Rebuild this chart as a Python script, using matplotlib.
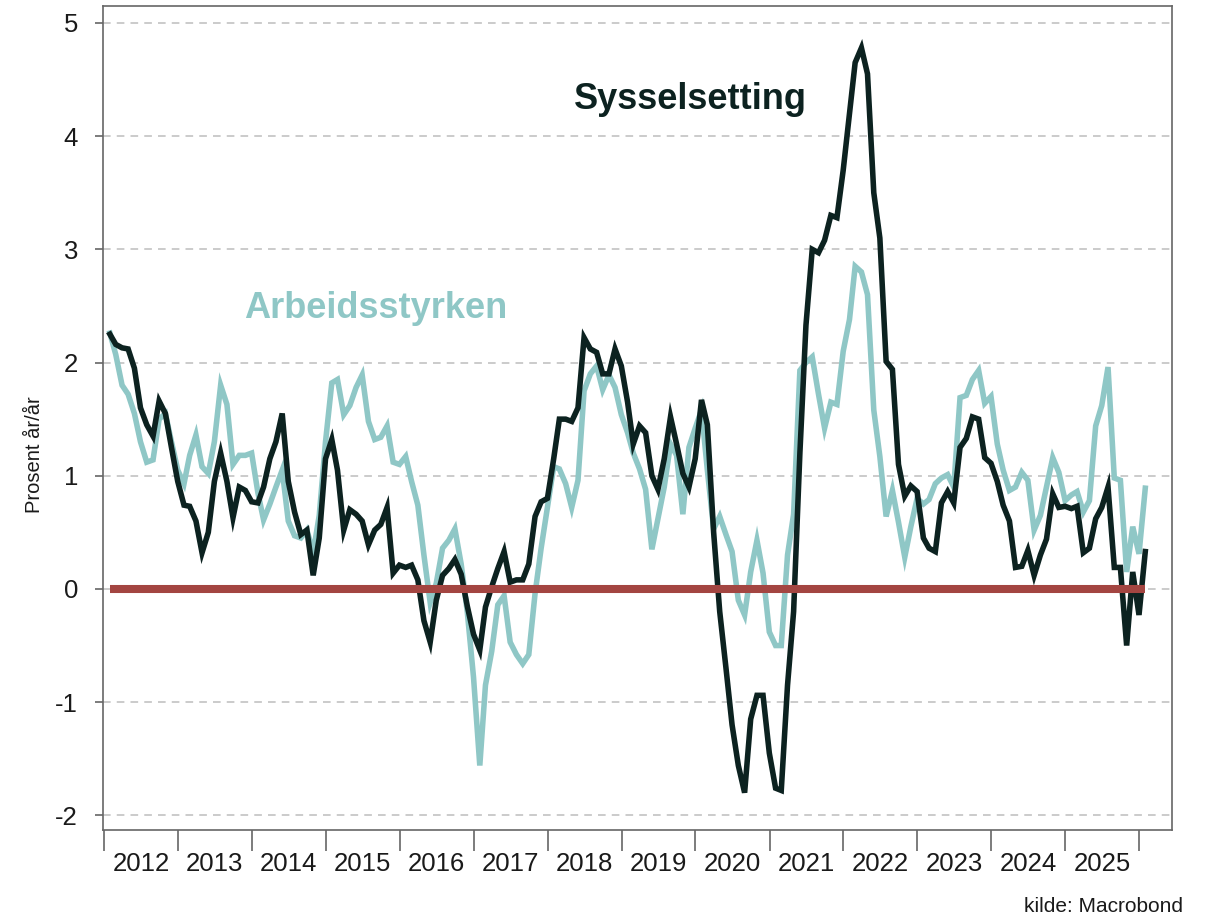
import matplotlib
matplotlib.use("Agg")
import matplotlib.pyplot as plt
import matplotlib.dates as mdates
import pandas as pd
import datetime as dt

# Monthly observations Jan 2012 - Jan 2026 (percent, year over year)
dates = pd.date_range("2012-01-31", periods=169, freq="ME")

sysselsetting = [
    # 2012
    2.25, 2.16, 2.13, 2.12, 1.95, 1.60, 1.45, 1.35, 1.66, 1.55, 1.25, 0.95,
    # 2013
    0.74, 0.73, 0.60, 0.32, 0.50, 0.95, 1.20, 0.95, 0.63, 0.90, 0.87, 0.77,
    # 2014
    0.76, 0.90, 1.15, 1.30, 1.55, 0.95, 0.68, 0.48, 0.52, 0.12, 0.45, 1.15,
    # 2015
    1.32, 1.05, 0.52, 0.70, 0.66, 0.60, 0.39, 0.52, 0.57, 0.72, 0.14, 0.21,
    # 2016
    0.19, 0.21, 0.08, -0.28, -0.47, -0.10, 0.12, 0.18, 0.26, 0.13, -0.15, -0.40,
    # 2017
    -0.54, -0.16, 0.02, 0.18, 0.33, 0.06, 0.08, 0.08, 0.22, 0.64, 0.77, 0.80,
    # 2018
    1.15, 1.50, 1.50, 1.48, 1.60, 2.22, 2.12, 2.09, 1.90, 1.90, 2.12, 1.97,
    # 2019
    1.65, 1.28, 1.44, 1.38, 1.00, 0.88, 1.15, 1.52, 1.28, 1.02, 0.90, 1.15,
    # 2020
    1.67, 1.45, 0.50, -0.20, -0.70, -1.20, -1.56, -1.80, -1.15, -0.94, -0.94, -1.45,
    # 2021
    -1.76, -1.78, -0.85, -0.20, 1.20, 2.33, 3.00, 2.97, 3.08, 3.30, 3.28, 3.70,
    # 2022
    4.20, 4.65, 4.78, 4.55, 3.50, 3.10, 2.01, 1.94, 1.10, 0.82, 0.91, 0.86,
    # 2023
    0.45, 0.36, 0.33, 0.76, 0.86, 0.76, 1.25, 1.33, 1.52, 1.50, 1.16, 1.11,
    # 2024
    0.95, 0.74, 0.60, 0.19, 0.20, 0.34, 0.12, 0.30, 0.44, 0.84, 0.72, 0.73,
    # 2025
    0.71, 0.73, 0.32, 0.36, 0.62, 0.72, 0.90, 0.19, 0.19, -0.50, 0.15, -0.23,
    # 2026
    0.33,
]

arbeidsstyrken = [
    # 2012
    2.26, 2.07, 1.80, 1.72, 1.55, 1.30, 1.12, 1.14, 1.50, 1.55, 1.30, 1.05,
    # 2013
    0.93, 1.18, 1.36, 1.08, 1.02, 1.30, 1.80, 1.63, 1.10, 1.18, 1.18, 1.20,
    # 2014
    0.85, 0.61, 0.75, 0.90, 1.05, 0.60, 0.47, 0.45, 0.52, 0.32, 0.65, 1.30,
    # 2015
    1.82, 1.85, 1.54, 1.62, 1.78, 1.89, 1.48, 1.32, 1.34, 1.44, 1.12, 1.10,
    # 2016
    1.17, 0.95, 0.74, 0.30, -0.12, 0.05, 0.36, 0.43, 0.53, 0.22, -0.20, -0.78,
    # 2017
    -1.56, -0.85, -0.55, -0.14, -0.06, -0.47, -0.58, -0.66, -0.58, -0.04, 0.36, 0.72,
    # 2018
    1.08, 1.06, 0.93, 0.72, 0.96, 1.75, 1.90, 1.97, 1.76, 1.89, 1.78, 1.54,
    # 2019
    1.38, 1.20, 1.06, 0.88, 0.35, 0.62, 0.90, 1.28, 1.18, 0.66, 1.25, 1.42,
    # 2020
    1.58, 1.05, 0.53, 0.64, 0.48, 0.33, -0.10, -0.23, 0.15, 0.43, 0.14, -0.38,
    # 2021
    -0.50, -0.50, 0.30, 0.66, 1.93, 2.00, 2.05, 1.72, 1.42, 1.65, 1.63, 2.10,
    # 2022
    2.38, 2.85, 2.80, 2.60, 1.58, 1.17, 0.64, 0.87, 0.59, 0.28, 0.55, 0.80,
    # 2023
    0.75, 0.79, 0.93, 0.98, 1.01, 0.90, 1.69, 1.71, 1.85, 1.93, 1.64, 1.70,
    # 2024
    1.28, 1.05, 0.87, 0.90, 1.03, 0.96, 0.52, 0.65, 0.90, 1.16, 1.03, 0.78,
    # 2025
    0.83, 0.86, 0.68, 0.78, 1.44, 1.62, 1.96, 0.98, 0.96, 0.15, 0.55, 0.31,
    # 2026
    0.89,
]

years = list(range(2012, 2026))
yticks = [-2, -1, 0, 1, 2, 3, 4, 5]

DARK = "#0c2220"
TEAL = "#8fc7c6"
RED = "#a34541"
GRID = "#bdbdbd"
SPINE = "#666666"

plt.rcParams["font.family"] = ["Liberation Sans", "DejaVu Sans"]

fig = plt.figure(figsize=(12.12, 9.19), dpi=100)
ax = fig.add_axes([0.085, 0.0968, 0.882, 0.8967])

ax.plot(dates, arbeidsstyrken, color=TEAL, lw=4.0, zorder=2, solid_joinstyle="miter")
ax.plot(dates, sysselsetting, color=DARK, lw=4.0, zorder=3, solid_joinstyle="miter")
ax.plot([dates[0], dates[-1]], [0, 0], color=RED, lw=5.8, zorder=4, solid_capstyle="butt")

ax.set_ylim(-2.13, 5.15)
ax.set_xlim(dt.datetime(2011, 12, 28), dt.datetime(2026, 6, 12))
ax.set_yticks(yticks)
ax.set_yticklabels([str(v) for v in yticks])
for v in yticks:
    ax.axhline(v, color=GRID, lw=1.1, ls=(0, (5, 4)), zorder=1)

ax.xaxis.set_major_locator(mdates.YearLocator(1, month=1, day=1))
ax.xaxis.set_major_formatter(plt.NullFormatter())
ax.set_xticks([dt.datetime(y, 7, 2) for y in years], minor=True)
ax.set_xticklabels([str(y) for y in years], minor=True)
ax.tick_params(axis="x", which="major", length=15, width=1.2, color=SPINE, direction="out")
ax.tick_params(axis="x", which="minor", length=0, labelsize=18.5, pad=16, labelcolor="#1a1a1a")
ax.tick_params(axis="y", length=6, width=1.2, color=SPINE, labelsize=18.5, pad=12, labelcolor="#1a1a1a")

for s in ax.spines.values():
    s.set_color(SPINE)
    s.set_linewidth(1.2)

ax.set_ylabel("Prosent år/år", fontsize=14.5, color="#1a1a1a")
ax.yaxis.set_label_coords(-0.055, 0.455)

ax.text(dt.datetime(2019, 12, 5), 4.32, "Sysselsetting", color=DARK, fontsize=26,
        fontweight="bold", ha="center", va="center")
ax.text(dt.datetime(2015, 9, 5), 2.48, "Arbeidsstyrken", color=TEAL, fontsize=26,
        fontweight="bold", ha="center", va="center")

fig.text(0.976, 0.003, "kilde: Macrobond", ha="right", va="bottom", fontsize=15, color="#1a1a1a")

fig.savefig("out.png", dpi=100)
